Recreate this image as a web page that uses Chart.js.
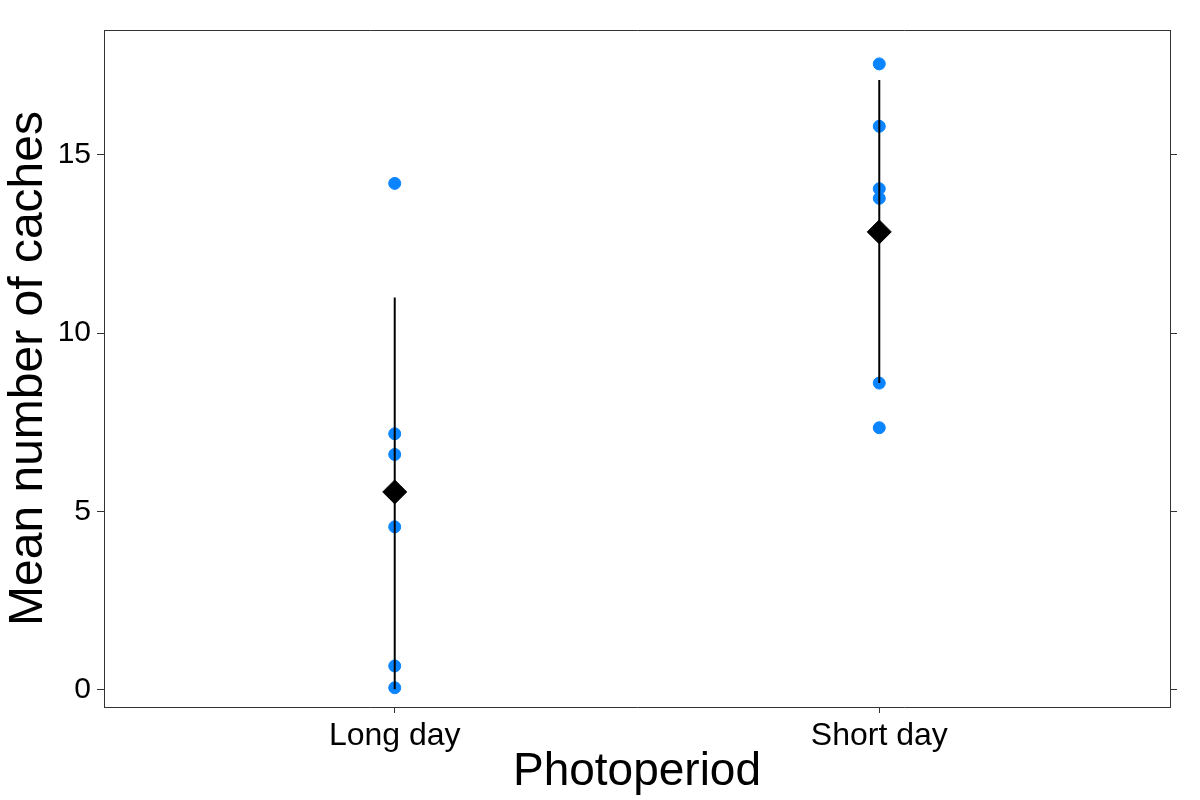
<!DOCTYPE html>
<html><head><meta charset="utf-8">
<script src="https://cdn.jsdelivr.net/npm/chart.js@4"></script>
<style>body{margin:0;background:#fff}#wrap{width:1200px;height:800px}</style>
</head><body><div id="wrap"><canvas id="c" width="1200" height="800"></canvas></div>
<script>
// data
const categories = ['Long day', 'Short day'];
const longDay = [14.2, 7.18, 6.6, 4.57, 0.67, 0.06];
const shortDay = [17.55, 15.8, 14.05, 13.78, 8.6, 7.35];
const means = [5.55, 12.84];
const errLow = [0.02, 8.6];
const errHigh = [11.0, 17.1];
const yTicks = [0, 5, 10, 15];

const pts = [];
[longDay, shortDay].forEach((vals, i) => vals.forEach(v => pts.push({x: i + 1, y: v})));

const datasets = [];
categories.forEach((c, i) => {
  datasets.push({
    data: [{x: i + 1, y: errLow[i]}, {x: i + 1, y: errHigh[i]}],
    showLine: true, borderColor: '#000', borderWidth: 2, pointRadius: 0
  });
});
datasets.push({data: pts, backgroundColor: '#0a84ff', borderColor: '#0a84ff', pointRadius: 6});
datasets.push({
  data: means.map((m, i) => ({x: i + 1, y: m})),
  pointStyle: 'rectRot', pointRadius: 12, backgroundColor: '#000', borderColor: '#000'
});

const font = 'Liberation Sans, Arial, sans-serif';
new Chart(document.getElementById('c'), {
  type: 'scatter',
  data: {datasets},
  options: {
    responsive: false, animation: false,
    layout: {padding: {top: 30, left: 0, right: 0, bottom: 0}},
    plugins: {legend: {display: false}, tooltip: {enabled: false}},
    scales: {
      x: {
        min: 0.4, max: 2.6,
        afterBuildTicks: s => { s.ticks = [{value: 1}, {value: 2}]; },
        afterFit: s => { s.height = 93; },
        ticks: {callback: v => categories[v - 1], color: '#000', font: {family: font, size: 32}, padding: 4, maxRotation: 0},
        grid: {drawOnChartArea: false, tickLength: 6, color: '#333'},
        border: {color: '#333'},
        title: {display: true, text: 'Photoperiod', color: '#000', font: {family: font, size: 46}, padding: 0}
      },
      y: {
        min: -0.48, max: 18.5,
        afterBuildTicks: s => { s.ticks = yTicks.map(v => ({value: v})); },
        afterFit: s => { s.width = 104; },
        ticks: {color: '#000', font: {family: font, size: 30}, padding: 6},
        grid: {drawOnChartArea: false, tickLength: 7, color: '#333'},
        border: {color: '#333'},
        title: {display: true, text: 'Mean number of caches', color: '#000', font: {family: font, size: 48}, padding: 0}
      },
      y2: {
        position: 'right', min: -0.48, max: 18.5,
        afterBuildTicks: s => { s.ticks = yTicks.map(v => ({value: v})); },
        afterFit: s => { s.width = 30; },
        ticks: {callback: () => '', padding: 0},
        grid: {drawOnChartArea: false, tickLength: 7, color: '#333'},
        border: {color: '#333'}
      },
      x2: {
        position: 'top', min: 0.4, max: 2.6,
        afterFit: s => { s.height = 0; },
        ticks: {display: false},
        grid: {display: false},
        border: {color: '#333'}
      }
    }
  }
});
</script></body></html>
